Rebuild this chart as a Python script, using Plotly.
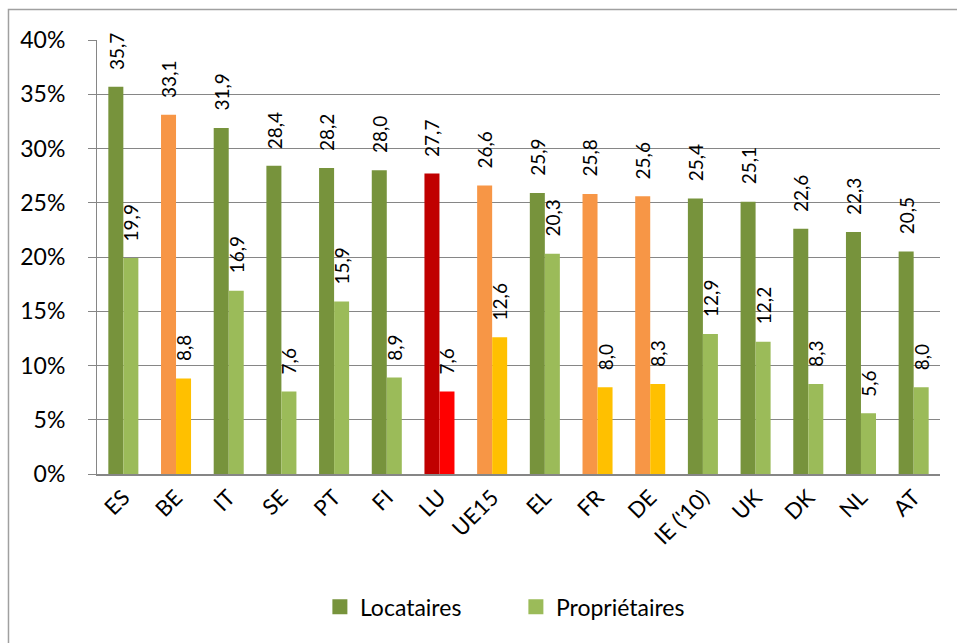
import plotly.graph_objects as go

categories = ["ES", "BE", "IT", "SE", "PT", "FI", "LU", "UE15", "EL", "FR", "DE", "IE ('10)", "UK", "DK", "NL", "AT"]
locataires = [35.7, 33.1, 31.9, 28.4, 28.2, 28.0, 27.7, 26.6, 25.9, 25.8, 25.6, 25.4, 25.1, 22.6, 22.3, 20.5]
proprietaires = [19.9, 8.8, 16.9, 7.6, 15.9, 8.9, 7.6, 12.6, 20.3, 8.0, 8.3, 12.9, 12.2, 8.3, 5.6, 8.0]
y_ticks = [0, 5, 10, 15, 20, 25, 30, 35, 40]
y_tick_labels = ["0%", "5%", "10%", "15%", "20%", "25%", "30%", "35%", "40%"]

dark_green, light_green = "#77933C", "#9BBB59"
orange, gold = "#F79646", "#FFC000"
dark_red, red = "#C00000", "#FF0000"
orange_set = {"BE", "UE15", "FR", "DE"}
red_set = {"LU"}

loc_colors = [dark_red if c in red_set else orange if c in orange_set else dark_green for c in categories]
prop_colors = [red if c in red_set else gold if c in orange_set else light_green for c in categories]

font = "Lato, Calibri, Carlito, sans-serif"

fig = go.Figure()
for name, vals, cols in [("Locataires", locataires, loc_colors),
                         ("Propriétaires", proprietaires, prop_colors)]:
    fig.add_trace(go.Bar(
        name=name, x=categories, y=vals,
        marker=dict(color=cols, line=dict(width=0)),
        showlegend=False,
    ))
# legend entries (uniform colours)
for name, c in [("Locataires", dark_green), ("Propriétaires", light_green)]:
    fig.add_trace(go.Scatter(name=name, x=[None], y=[None], mode="markers",
                             marker=dict(symbol="square", size=15, color=c), showlegend=True))

# data labels, rotated, with a gap above each bar
annotations = []
for vals, shift in [(locataires, -7.5), (proprietaires, 7.5)]:
    for c, v in zip(categories, vals):
        annotations.append(dict(
            x=c, y=v, xref="x", yref="y", text=f"{v:.1f}".replace(".", ","),
            showarrow=False, textangle=-90, xanchor="center", yanchor="bottom",
            xshift=shift, yshift=15, font=dict(size=19, family=font, color="black"),
        ))

fig.update_layout(
    width=957, height=643,
    margin=dict(l=97, r=17, t=40, b=169),
    paper_bgcolor="white", plot_bgcolor="white",
    barmode="group", bargap=0.43, bargroupgap=0,
    font=dict(family=font, size=23, color="black"),
    showlegend=True,
    legend=dict(orientation="h", x=0.2644, xanchor="left", y=-0.306, yanchor="middle",
                font=dict(size=23, family=font), itemwidth=30, traceorder="normal",
                entrywidth=151, entrywidthmode="pixels"),
    xaxis=dict(tickangle=-45, tickfont=dict(size=22), showline=True, linecolor="#868686",
               linewidth=2, ticks="", showgrid=False, automargin=False),
    yaxis=dict(range=[0, 40], tickmode="array", tickvals=y_ticks, ticktext=y_tick_labels,
               tickfont=dict(size=23), ticklabelstandoff=18,
               showgrid=True, gridcolor="#868686", gridwidth=1, showline=True,
               linecolor="#868686", linewidth=1, ticks="outside", ticklen=8,
               tickcolor="#868686", zeroline=False, automargin=False),
    annotations=annotations,
    shapes=[dict(type="rect", xref="paper", yref="paper",
                 x0=-0.105, x1=1.06, y0=-0.45, y1=1.0703,
                 line=dict(color="#A0A0A0", width=1.5), fillcolor="rgba(0,0,0,0)")],
)

fig.write_html("out.html", config={"displayModeBar": False},
               post_script="document.body.style.margin='0';document.body.style.overflow='hidden';")
